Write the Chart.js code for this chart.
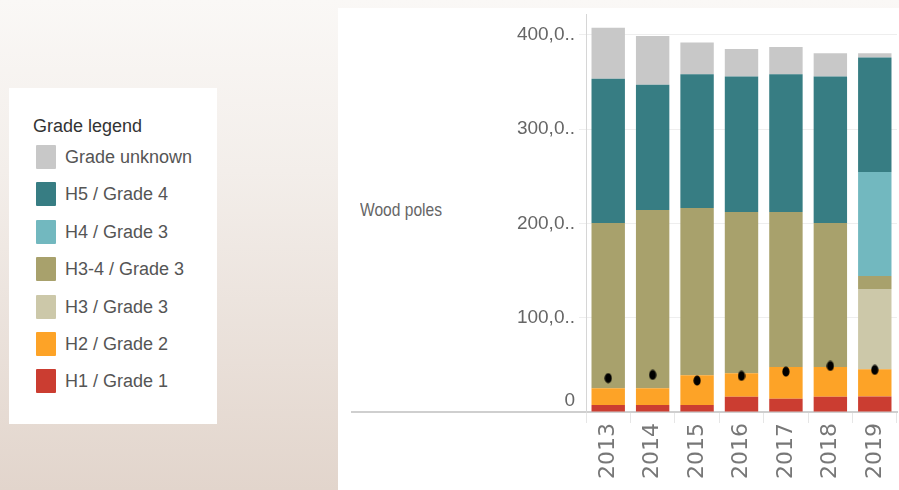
<!DOCTYPE html>
<html>
<head>
<meta charset="utf-8">
<script src="https://cdn.jsdelivr.net/npm/chart.js@4/dist/chart.umd.min.js"></script>
<style>
  html, body { margin: 0; padding: 0; width: 899px; height: 490px; overflow: hidden; }
  body {
    background: linear-gradient(180deg, #faf8f6 0%, #f3eeea 35%, #e2d5cc 100%);
    font-family: "Liberation Sans", Arial, sans-serif;
    position: relative;
  }
  #legendBox {
    position: absolute; left: 9px; top: 88px; width: 208px; height: 336px;
    background: #fff;
  }
  #legendTitle {
    position: absolute; left: 24px; top: 28px; font-size: 18px; color: #333;
  }
  .item { position: absolute; left: 27px; height: 24px; }
  .swatch { position: absolute; left: 0; top: 0; width: 20px; height: 24px; border-radius: 1px; }
  .label { position: absolute; left: 29px; top: 2px; font-size: 18px; color: #555; white-space: nowrap; }
  #panel {
    position: absolute; left: 338px; top: 8px; width: 561px; height: 482px;
    background: #fff; overflow: hidden;
  }
  #rowLabel {
    position: absolute; left: 22px; top: 191px;
    font-size: 19px; color: #666;
    transform: scaleX(0.82); transform-origin: left center;
    white-space: nowrap;
  }
  #wrap { position: absolute; left: 0; top: 0; width: 565px; height: 482px; }
</style>
</head>
<body>
<div id="legendBox"><div id="legendTitle">Grade legend</div></div>
<div id="panel">
  <div id="rowLabel">Wood poles</div>
  <div id="wrap"><canvas id="chart" width="565" height="482"></canvas></div>
</div>
<script>
// values (poles)
const years = ['2013', '2014', '2015', '2016', '2017', '2018', '2019'];
const h1 = [7400, 7400, 7400, 16100, 14000, 16100, 16500];
const h2 = [17900, 17900, 31600, 25000, 33800, 31700, 28900];
const h3 = [0, 0, 0, 0, 0, 0, 85000];
const h34 = [175100, 188800, 177200, 170900, 164200, 152600, 13700];
const h4 = [0, 0, 0, 0, 0, 0, 110400];
const h5 = [153000, 132900, 142000, 143800, 146200, 155400, 121300];
const unknown = [54100, 51700, 33500, 29200, 28900, 24600, 4600];
const marker = [35900, 39300, 33300, 38300, 42800, 48800, 44600];
const yTicks = [0, 100000, 200000, 300000, 400000];
const yMax = 422000;

// bottom to top of the stack
const grades = [
  { name: 'H1 / Grade 1', data: h1, color: '#cb3d31' },
  { name: 'H2 / Grade 2', data: h2, color: '#fda327' },
  { name: 'H3 / Grade 3', data: h3, color: '#ccc8a9' },
  { name: 'H3-4 / Grade 3', data: h34, color: '#a8a16c' },
  { name: 'H4 / Grade 3', data: h4, color: '#72b8bf' },
  { name: 'H5 / Grade 4', data: h5, color: '#377d83' },
  { name: 'Grade unknown', data: unknown, color: '#c8c8c8' }
];

// legend box (top to bottom is the reverse of the stack)
const legendBox = document.getElementById('legendBox');
grades.slice().reverse().forEach((g, i) => {
  const item = document.createElement('div');
  item.className = 'item';
  item.style.top = (57 + i * 37.4) + 'px';
  item.innerHTML = `<div class="swatch" style="background:${g.color}"></div><div class="label">${g.name}</div>`;
  legendBox.appendChild(item);
});

// small upright ellipse used as the marker point
const dot = document.createElement('canvas');
dot.width = 8;
dot.height = 11;
const dctx = dot.getContext('2d');
dctx.fillStyle = '#000';
dctx.beginPath();
dctx.ellipse(4, 5.5, 3.6, 5, 0, 0, Math.PI * 2);
dctx.fill();

// baseline that runs left under the row label
const rowLine = {
  id: 'rowLine',
  afterDraw(chart) {
    const ctx = chart.ctx;
    const y = chart.scales.y.getPixelForValue(0);
    ctx.save();
    ctx.strokeStyle = '#cfcfcf';
    ctx.lineWidth = 2;
    ctx.beginPath();
    ctx.moveTo(13, y);
    ctx.lineTo(chart.chartArea.left, y);
    ctx.stroke();
    ctx.restore();
  }
};

const datasets = grades.map(g => ({
  type: 'bar',
  label: g.name,
  data: g.data,
  backgroundColor: g.color,
  borderWidth: 0,
  stack: 'grades',
  barPercentage: 0.752,
  categoryPercentage: 1,
  order: 2
}));

datasets.push({
  type: 'line',
  label: 'marker',
  data: marker,
  stack: 'marker',
  showLine: false,
  pointStyle: dot,
  pointRadius: 5,
  order: 1
});

new Chart(document.getElementById('chart'), {
  type: 'bar',
  data: { labels: years, datasets: datasets },
  plugins: [rowLine],
  options: {
    responsive: false,
    animation: false,
    devicePixelRatio: 1,
    layout: { padding: { top: -2, left: 0, right: 0, bottom: 0 } },
    plugins: {
      legend: { display: false },
      tooltip: { enabled: false }
    },
    scales: {
      x: {
        stacked: true,
        afterFit: scale => {
          scale.height = 78;
          scale.paddingLeft = 0;
          scale.paddingRight = 0;
        },
        grid: {
          offset: true,
          drawOnChartArea: false,
          drawTicks: true,
          tickLength: 11,
          color: '#e6e6e6'
        },
        border: { color: '#cfcfcf', width: 2 },
        ticks: {
          minRotation: 90,
          maxRotation: 90,
          padding: 0,
          color: '#777',
          font: { family: 'DejaVu Sans', size: 22 }
        }
      },
      y: {
        stacked: true,
        min: 0,
        max: yMax,
        afterFit: scale => {
          scale.width = 248;
          scale.paddingTop = 0;
          scale.paddingBottom = 0;
        },
        afterBuildTicks: scale => {
          scale.ticks = yTicks.map(v => ({ value: v }));
        },
        grid: {
          color: ctx => (ctx.tick && ctx.tick.value === 0) ? 'rgba(0,0,0,0)' : '#eeeeee',
          tickLength: 7
        },
        border: { color: '#d6d6d6', width: 1 },
        ticks: {
          autoSkip: false,
          padding: 4,
          color: '#666',
          font: { family: 'Liberation Sans', size: 19 },
          callback: v => {
            // the zero label sits just above the baseline
            if (v === 0) return ['0', ''];
            const s = v.toLocaleString('en-US');
            return s.slice(0, 5) + '..';
          }
        }
      }
    }
  }
});
</script>
</body>
</html>
